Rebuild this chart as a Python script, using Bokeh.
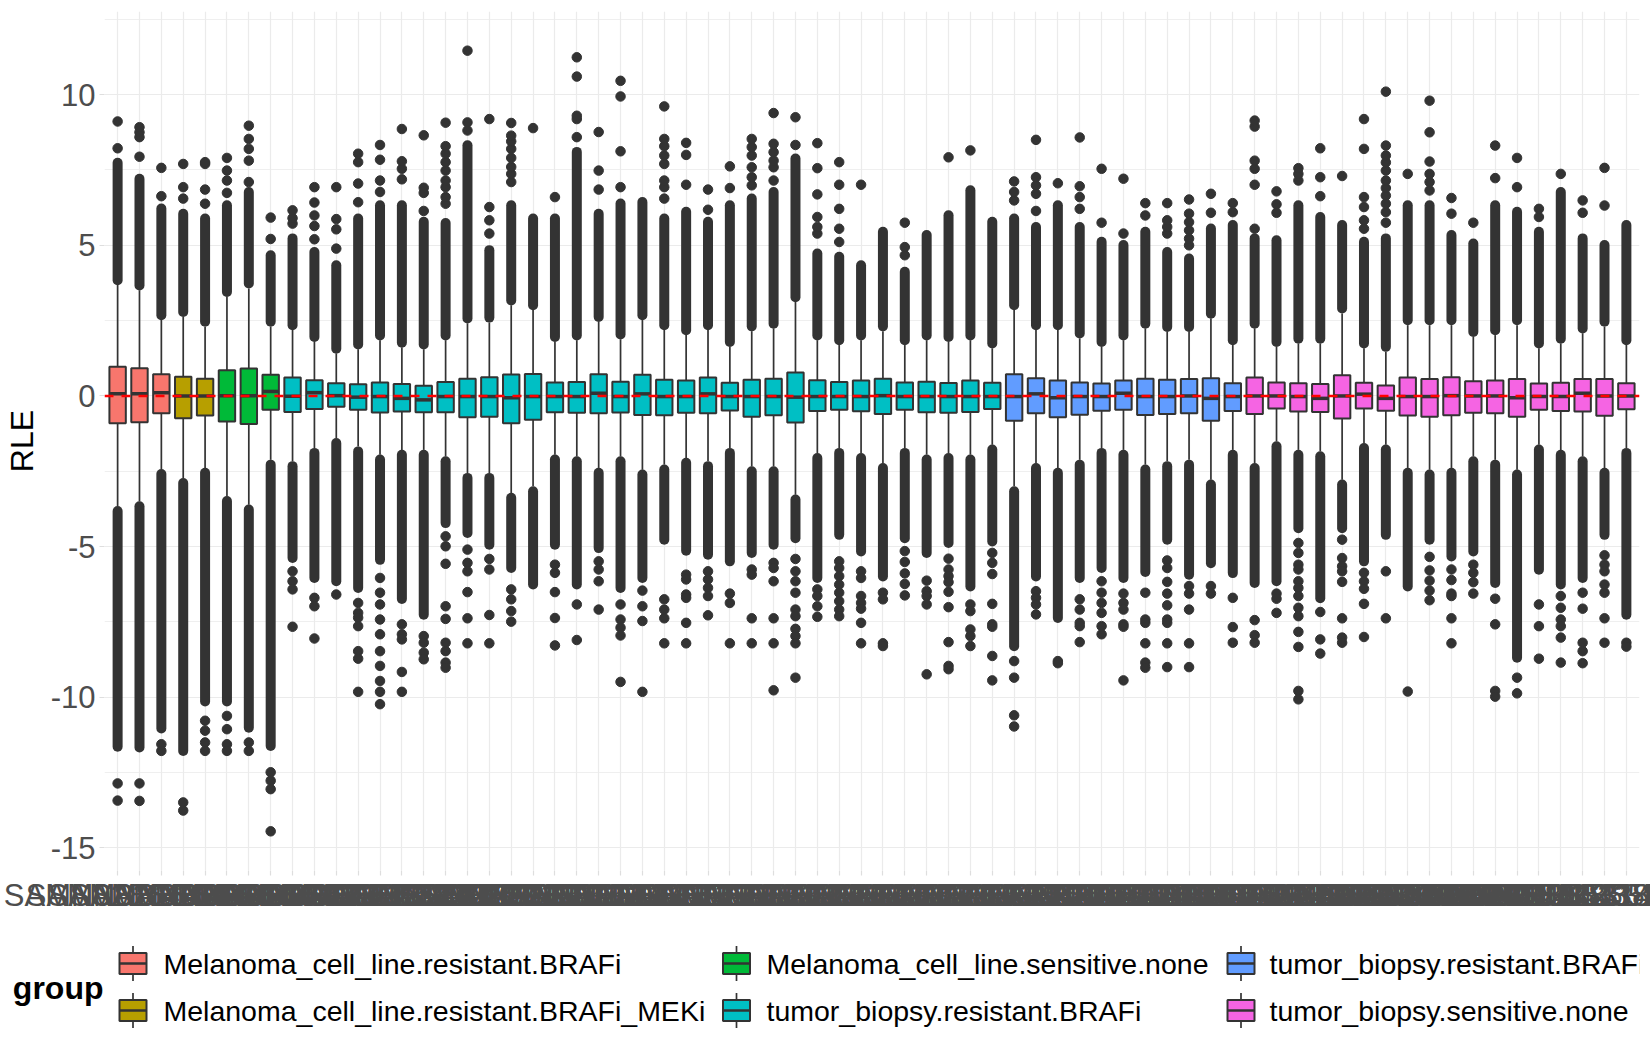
from bokeh.plotting import figure
from bokeh.layouts import column
from bokeh.models import Range1d, FixedTicker, Span
from bokeh.core.properties import value
from bokeh.embed import file_html
from bokeh.resources import INLINE

# ---- data ----
samples = [
    "SAMN02864001", "SAMN02864002", "SAMN02864003", "SAMN02864004", "SAMN02864005",
    "SAMN02864006", "SAMN02864007", "SAMN02864008", "SAMN03733101", "SAMN03733102",
    "SAMN03733103", "SAMN03733104", "SAMN03733105", "SAMN03733106", "SAMN03733107",
    "SAMN03733108", "SAMN03733109", "SAMN03733110", "SAMN03733111", "SAMN03733112",
    "SAMN03733113", "SAMN03733114", "SAMN03733115", "SAMN03733116", "SAMN03733117",
    "SAMN03733118", "SAMN03733119", "SAMN03733120", "SAMN03733121", "SAMN03733122",
    "SAMN03733123", "SAMN03733124", "SAMN03733125", "SAMN03733126", "SAMN03733127",
    "SAMN03733128", "SAMN03733129", "SAMN03733130", "SAMN03733131", "SAMN03733132",
    "SAMN03733133", "SAMN04151201", "SAMN04151202", "SAMN04151203", "SAMN04151204",
    "SAMN04151205", "SAMN04151206", "SAMN04151207", "SAMN04151208", "SAMN04151209",
    "SAMN04151210", "SAMN04151211", "SAMN04385301", "SAMN04385302", "SAMN04385303",
    "SAMN04385304", "SAMN04385305", "SAMN04385306", "SAMN04385307", "SAMN04385308",
    "SAMN04385309", "SAMN04385310", "SAMN04385311", "SAMN04385312", "SAMN04385313",
    "SAMN04385314", "SAMN04385315", "SAMN04385316", "SAMN04385317", "SAMN04385318",
]

group_names = [
    "Melanoma_cell_line.resistant.BRAFi",
    "Melanoma_cell_line.resistant.BRAFi_MEKi",
    "Melanoma_cell_line.sensitive.none",
    "tumor_biopsy.resistant.BRAFi",
    "tumor_biopsy.resistant.BRAFi_MEKi",
    "tumor_biopsy.sensitive.none",
]
group_colors = ["#F8766D", "#B79F00", "#00BA38", "#00BFC4", "#619CFF", "#F564E3"]
sample_group = [0] * 3 + [1] * 2 + [2] * 3 + [3] * 33 + [4] * 11 + [5] * 18

q3 = [0.97, 0.92, 0.72, 0.64, 0.57, 0.85, 0.91, 0.70, 0.61, 0.52,
      0.42, 0.39, 0.45, 0.40, 0.34, 0.46, 0.57, 0.62, 0.71, 0.73,
      0.45, 0.46, 0.72, 0.47, 0.70, 0.54, 0.51, 0.61, 0.44, 0.54,
      0.57, 0.78, 0.52, 0.46, 0.51, 0.57, 0.45, 0.47, 0.43, 0.51,
      0.44, 0.72, 0.59, 0.51, 0.45, 0.41, 0.51, 0.57, 0.54, 0.56,
      0.59, 0.42, 0.61, 0.45, 0.42, 0.40, 0.69, 0.44, 0.35, 0.61,
      0.56, 0.62, 0.49, 0.51, 0.56, 0.41, 0.44, 0.56, 0.56, 0.42]
med = [0.07, 0.07, 0.11, 0.00, 0.00, 0.01, 0.01, 0.15, -0.01, 0.11,
       0.01, -0.04, -0.02, -0.08, -0.13, -0.02, -0.02, -0.02, -0.06, -0.02,
       -0.02, -0.02, 0.09, -0.02, 0.07, -0.02, -0.02, 0.07, -0.02, -0.02,
       -0.02, -0.04, -0.02, -0.02, -0.02, 0.01, -0.02, -0.02, -0.02, -0.02,
       -0.02, -0.02, 0.07, -0.06, -0.02, -0.02, 0.09, -0.02, -0.02, 0.00,
       -0.08, -0.02, 0.00, 0.00, -0.02, -0.08, 0.00, 0.06, -0.08, -0.02,
       -0.02, 0.01, 0.00, 0.00, -0.06, -0.02, -0.02, 0.09, 0.00, 0.00]
q1 = [-0.91, -0.87, -0.57, -0.74, -0.65, -0.85, -0.93, -0.46, -0.53, -0.43,
      -0.36, -0.46, -0.55, -0.52, -0.54, -0.54, -0.71, -0.69, -0.91, -0.79,
      -0.54, -0.56, -0.57, -0.55, -0.63, -0.64, -0.56, -0.57, -0.48, -0.69,
      -0.64, -0.88, -0.50, -0.46, -0.51, -0.60, -0.46, -0.54, -0.56, -0.53,
      -0.43, -0.82, -0.57, -0.71, -0.62, -0.49, -0.46, -0.63, -0.60, -0.57,
      -0.82, -0.50, -0.60, -0.42, -0.52, -0.53, -0.75, -0.42, -0.49, -0.65,
      -0.69, -0.64, -0.56, -0.57, -0.69, -0.46, -0.50, -0.52, -0.66, -0.44]

# upper / lower whisker ends
hi_w = [3.68, 3.51, 2.52, 2.63, 2.30, 3.29, 3.57, 2.30, 2.19, 1.80,
        1.41, 1.55, 1.85, 1.61, 1.55, 1.85, 2.41, 2.44, 3.01, 2.85,
        1.80, 1.85, 2.46, 1.88, 2.52, 2.19, 2.02, 2.19, 1.63, 2.15,
        2.24, 3.12, 1.85, 1.69, 1.85, 2.15, 1.69, 1.85, 1.80, 1.85,
        1.58, 2.85, 2.19, 2.19, 1.91, 1.63, 1.85, 2.24, 2.13, 2.13,
        2.57, 1.69, 2.24, 1.63, 1.74, 1.74, 2.74, 1.58, 1.47, 2.35,
        2.35, 2.35, 1.96, 2.02, 2.35, 1.58, 1.74, 2.08, 2.30, 1.69]
lo_w = [-3.66, -3.50, -2.43, -2.73, -2.39, -3.33, -3.61, -2.12, -2.17, -1.73,
        -1.40, -1.68, -1.95, -1.79, -1.79, -2.01, -2.56, -2.56, -3.22, -3.00,
        -1.95, -2.01, -2.39, -2.01, -2.45, -2.28, -2.06, -2.17, -1.73, -2.34,
        -2.34, -3.28, -1.90, -1.73, -1.90, -2.23, -1.73, -1.95, -1.90, -1.95,
        -1.62, -3.00, -2.23, -2.39, -2.12, -1.73, -1.79, -2.28, -2.17, -2.12,
        -2.78, -1.79, -2.23, -1.51, -1.79, -1.84, -2.78, -1.57, -1.62, -2.39,
        -2.45, -2.39, -2.01, -2.12, -2.45, -1.62, -1.79, -2.01, -2.39, -1.73]

# outer ends of the solid runs of overlapping outliers
hi_d = [7.90, 7.37, 6.38, 6.21, 6.05, 6.49, 6.93, 4.83, 5.39, 4.94,
        4.50, 6.05, 6.49, 6.49, 5.94, 5.90, 8.48, 5.00, 6.49, 6.05,
        6.05, 8.26, 6.21, 6.55, 6.60, 6.05, 6.27, 5.94, 6.49, 6.71,
        6.93, 8.04, 4.89, 4.78, 4.50, 5.61, 4.28, 5.50, 6.16, 6.99,
        5.94, 6.05, 5.77, 6.49, 5.77, 5.28, 5.17, 5.61, 4.94, 4.72,
        5.72, 5.83, 5.39, 5.33, 6.49, 6.10, 5.83, 5.28, 5.39, 6.49,
        6.49, 5.50, 5.22, 6.49, 6.27, 5.61, 6.93, 5.39, 5.17, 5.83]
lo_d = [-11.80, -11.83, -11.20, -11.94, -10.30, -10.30, -11.17, -11.78, -5.54, -6.20,
        -6.31, -6.53, -5.60, -6.90, -7.42, -4.38, -4.71, -5.10, -5.87, -6.42,
        -5.10, -6.42, -5.21, -6.53, -6.20, -4.93, -5.30, -5.43, -5.65, -5.37,
        -5.10, -4.88, -6.20, -4.77, -5.32, -6.15, -4.88, -5.37, -5.04, -6.48,
        -4.99, -8.47, -6.15, -7.53, -6.20, -5.87, -6.20, -6.00, -4.93, -6.09,
        -5.71, -6.04, -6.37, -6.31, -4.55, -6.87, -4.55, -5.65, -4.77, -6.48,
        -4.93, -5.49, -5.32, -6.37, -8.85, -5.93, -6.42, -6.20, -4.77, -7.42]

# separate outliers beyond the solid runs
hi_out = [
    [8.22, 9.11], [7.94, 8.59, 8.75, 8.92], [6.63, 7.57], [6.55, 6.93, 7.70],
    [6.38, 6.85, 7.70, 7.76], [6.74, 7.15, 7.48, 7.90], [7.10, 7.81, 8.20, 8.53, 8.97],
    [5.21, 5.92], [5.72, 5.90, 6.16], [5.20, 5.64, 5.99, 6.42, 6.93],
    [4.89, 5.53, 5.87, 6.93], [6.43, 7.05, 7.76, 8.04], [6.77, 7.15, 7.84, 8.33],
    [7.19, 7.54, 7.79, 8.86], [6.14, 6.74, 6.91, 8.65],
    [6.38, 6.60, 6.93, 7.15, 7.48, 7.76, 8.04, 8.29, 9.07], [8.81, 9.08, 11.46],
    [5.39, 5.83, 6.27, 9.19], [7.10, 7.37, 7.60, 7.90, 8.20, 8.45, 8.64, 9.06],
    [8.89], [6.60], [8.59, 9.19, 9.30, 10.60, 11.24], [6.85, 7.48, 8.76],
    [6.93, 8.12, 9.94, 10.46], [],
    [6.55, 6.93, 7.15, 7.70, 7.98, 8.29, 8.53, 9.61], [7.01, 8.00, 8.40],
    [6.18, 6.85], [6.90, 7.62], [6.99, 7.26, 7.59, 7.98, 8.26, 8.53],
    [7.15, 7.59, 7.81, 8.09, 8.37, 9.39], [8.33, 9.25],
    [5.39, 5.61, 5.94, 6.69, 7.56, 8.39], [5.11, 5.55, 6.21, 7.01, 7.76], [7.01],
    [], [4.67, 4.94, 5.75], [], [7.92], [8.15], [],
    [6.49, 6.77, 7.12], [6.14, 6.71, 6.99, 7.26, 8.50], [7.06],
    [6.21, 6.60, 6.96, 8.58], [5.75, 7.54], [5.39, 7.21], [5.99, 6.40],
    [5.39, 5.61, 5.83, 6.40], [5.00, 5.22, 5.50, 5.77, 6.05, 6.52], [6.08, 6.71],
    [6.10, 6.40], [5.55, 7.01, 7.54, 7.81, 8.94, 9.14], [6.08, 6.36, 6.79],
    [7.15, 7.37, 7.56], [6.63, 7.26, 8.22], [7.30],
    [5.55, 5.83, 6.27, 6.60, 8.20, 9.19],
    [5.75, 6.10, 6.38, 6.65, 6.90, 7.15, 7.48, 7.75, 7.98, 8.31, 10.10],
    [7.37], [6.82, 7.10, 7.37, 7.78, 8.75, 9.80], [6.05, 6.57], [5.75],
    [7.23, 8.31], [6.93, 7.90], [5.94, 6.21], [7.37], [6.08, 6.49], [6.32, 7.57], [],
]
lo_out = [
    [-12.86, -13.43], [-12.86, -13.44], [-11.56, -11.78], [-13.49, -13.76],
    [-10.78, -11.11, -11.50, -11.78], [-10.62, -11.06, -11.56, -11.78], [-11.50, -11.78],
    [-12.49, -12.77, -13.05, -14.45], [-5.82, -6.15, -6.42, -7.66], [-6.70, -6.98, -8.05],
    [-6.59], [-6.87, -7.20, -7.36, -7.64, -8.47, -8.72, -9.82],
    [-6.04, -6.53, -6.92, -7.42, -7.91, -8.47, -8.96, -9.46, -9.82, -10.23],
    [-7.58, -7.91, -8.08, -9.16, -9.82], [-7.97, -8.19, -8.52, -8.74],
    [-4.66, -4.99, -5.57, -6.98, -7.40, -8.19, -8.47, -8.85, -9.02],
    [-5.10, -5.54, -5.82, -6.51, -7.38, -8.21], [-5.41, -5.76, -7.27, -8.21],
    [-6.42, -6.75, -7.14, -7.49], [], [-5.60, -5.87, -6.51, -7.37, -8.28],
    [-6.92, -8.10], [-5.49, -5.76, -6.15, -7.09], [-6.92, -7.42, -7.69, -7.95, -9.49],
    [-6.46, -6.98, -7.47, -9.82], [-6.75, -7.09, -7.38, -8.21],
    [-5.93, -6.09, -6.59, -6.70, -7.53, -8.21], [-5.82, -6.09, -6.37, -6.64, -7.28],
    [-6.56, -6.87, -8.21], [-5.76, -5.93, -7.38, -8.21],
    [-5.54, -5.71, -6.15, -7.38, -8.21, -9.77],
    [-5.41, -5.82, -6.15, -6.53, -7.09, -7.31, -7.73, -7.97, -8.21, -9.35],
    [-6.42, -6.64, -6.98, -7.33], [-5.49, -5.71, -5.98, -6.26, -6.53, -6.81, -7.09, -7.31],
    [-5.82, -6.04, -6.64, -6.87, -7.06, -7.53, -8.21], [-6.53, -6.75, -8.21, -8.30],
    [-5.15, -5.51, -5.89, -6.24, -6.62], [-6.13, -6.48, -6.64, -6.92, -9.24],
    [-5.40, -5.76, -5.98, -6.18, -6.50, -7.01, -8.17, -8.96, -9.07],
    [-6.92, -7.14, -7.75, -7.97, -8.30],
    [-5.21, -5.54, -5.91, -6.90, -7.58, -7.66, -8.63, -9.44],
    [-8.80, -9.35, -10.60, -10.97], [-6.48, -6.70, -6.92, -7.25], [-8.80, -8.87],
    [-6.75, -7.09, -7.53, -7.64, -8.17], [-6.15, -6.53, -6.87, -7.20, -7.64, -7.91],
    [-6.56, -6.87, -7.09, -7.58, -7.66, -9.44], [-6.53, -7.42, -7.53, -8.21, -8.85, -9.02],
    [-5.46, -5.71, -6.17, -6.56, -6.95, -7.42, -7.53, -8.21, -9.00],
    [-6.31, -6.56, -7.09, -8.21, -9.00], [-6.31, -6.56], [-6.70, -7.67, -8.19],
    [-7.44, -7.94, -8.19], [-6.56, -6.73, -7.20],
    [-4.88, -5.21, -5.60, -5.76, -6.15, -6.37, -6.64, -7.03, -7.31, -7.83, -8.33, -9.79, -10.07],
    [-7.17, -8.08, -8.55], [-4.77, -5.38, -5.65, -5.82, -6.17, -7.38, -8.02, -8.19],
    [-5.87, -6.15, -6.40, -6.90, -8.00], [-5.82, -7.38], [-9.81],
    [-5.34, -5.79, -6.13, -6.46, -6.78], [-5.76, -6.11, -6.56, -6.64, -7.38, -8.21],
    [-5.60, -5.87, -6.18, -6.56], [-6.73, -7.58, -9.79, -9.98], [-9.35, -9.87],
    [-6.92, -7.64, -8.72], [-6.64, -7.03, -7.42, -7.64, -8.02, -8.85],
    [-6.53, -7.06, -8.19, -8.47, -8.87], [-5.29, -5.60, -5.82, -6.26, -6.53, -7.38, -8.19],
    [-8.19, -8.32],
]

y_ticks = [-15, -10, -5, 0, 5, 10]
y_minor = [-12.5, -7.5, -2.5, 2.5, 7.5, 12.5]

DARK = "#333333"
GRID = "#EBEBEB"
FONT = "Liberation Sans"

pos = list(range(1, len(samples) + 1))
fills = [group_colors[g] for g in sample_group]
r = 0.16   # outlier dot radius in data units
half = 0.375

p = figure(width=1650, height=930,
           x_range=Range1d(0.4, len(samples) + 0.6), y_range=Range1d(-15.75, 12.76),
           output_backend="svg", toolbar_location=None,
           min_border_left=104, min_border_right=11, min_border_top=11, min_border_bottom=60)
p.outline_line_color = None
p.background_fill_color = "white"
p.border_fill_color = "white"

# solid runs of outliers
sx, sy0, sy1 = [], [], []
for i, x in enumerate(pos):
    if hi_d[i] - r > hi_w[i] + r:
        sx.append(x); sy0.append(hi_w[i] + r); sy1.append(hi_d[i] - r)
    if lo_d[i] + r < lo_w[i] - r:
        sx.append(x); sy0.append(lo_w[i] - r); sy1.append(lo_d[i] + r)
p.segment(x0=sx, y0=sy0, x1=sx, y1=sy1, line_color=DARK, line_width=10, line_cap="round")

# single outliers
ox, oy = [], []
for i, x in enumerate(pos):
    for v in hi_out[i] + lo_out[i]:
        ox.append(x); oy.append(v)
p.scatter(ox, oy, size=9.5, fill_color=DARK, line_color=DARK)

# whiskers
p.segment(x0=pos, y0=q3, x1=pos, y1=hi_w, line_color=DARK, line_width=1.7)
p.segment(x0=pos, y0=q1, x1=pos, y1=lo_w, line_color=DARK, line_width=1.7)

# boxes + medians
p.vbar(x=pos, width=2 * half, top=q3, bottom=q1, fill_color=fills,
       line_color=DARK, line_width=2)
p.segment(x0=[x - half for x in pos], y0=med, x1=[x + half for x in pos], y1=med,
          line_color=DARK, line_width=3.5)

p.add_layout(Span(location=0, dimension="width", line_color="red",
                  line_width=2.4, line_dash="9 8"))

xt = FixedTicker(ticks=pos)
p.xaxis.ticker = xt
p.xgrid.ticker = xt
p.xaxis.major_label_overrides = {x: s for x, s in zip(pos, samples)}
yt = FixedTicker(ticks=y_ticks, minor_ticks=y_minor)
p.yaxis.ticker = yt
p.ygrid.ticker = yt
p.yaxis.major_label_overrides = {t: str(t) for t in y_ticks}

p.grid.grid_line_color = GRID
p.grid.grid_line_width = 1.2
p.ygrid.minor_grid_line_color = GRID
p.ygrid.minor_grid_line_width = 0.8

for ax in (p.xaxis, p.yaxis):
    ax.axis_line_color = None
    ax.major_tick_line_color = "#DEDEDE"
    ax.major_tick_line_width = 1.2
    ax.major_tick_out = 5
    ax.major_tick_in = 0
    ax.minor_tick_line_color = None
    ax.major_label_text_font = FONT
    ax.major_label_text_font_size = "31px"
    ax.major_label_text_color = "#4D4D4D"
p.xaxis.major_label_standoff = 2
p.yaxis.major_label_standoff = 4
p.yaxis.axis_label = "RLE"
p.yaxis.axis_label_text_font = FONT
p.yaxis.axis_label_text_font_size = "32px"
p.yaxis.axis_label_text_font_style = "normal"
p.yaxis.axis_label_text_color = "black"
p.yaxis.axis_label_standoff = 8

# ---- legend panel: x in page pixels inside the frame, y in page pixels ----
leg = figure(width=1650, height=120, x_range=Range1d(104, 1639), y_range=Range1d(1044, 930),
             output_backend="svg", toolbar_location=None, x_axis_location=None,
             min_border_left=104, min_border_right=11, min_border_top=0, min_border_bottom=6)
leg.outline_line_color = None
leg.grid.grid_line_color = None
leg.yaxis.ticker = FixedTicker(ticks=[])
leg.yaxis.axis_line_color = None
leg.yaxis.major_tick_out = 0
leg.yaxis.minor_tick_line_color = None
leg.yaxis.major_label_standoff = 0
leg.yaxis.axis_label = "group"
leg.yaxis.axis_label_orientation = "horizontal"
leg.yaxis.axis_label_standoff = 1
leg.yaxis.axis_label_text_font = FONT
leg.yaxis.axis_label_text_font_size = "32px"
leg.yaxis.axis_label_text_font_style = "bold"
leg.yaxis.axis_label_text_color = "black"

key_x = [132.5, 132.5, 736, 736, 1240.5, 1240.5]
row_y = [963, 1010, 963, 1010, 963, 1010]
text_x = [163, 163, 766, 766, 1269, 1269]

leg.segment(x0=key_x, y0=[y - 17.5 for y in row_y], x1=key_x, y1=[y + 17.5 for y in row_y],
            line_color=DARK, line_width=1.7)
leg.rect(x=key_x, y=row_y, width=27, height=21, fill_color=group_colors,
         line_color=DARK, line_width=2)
leg.segment(x0=[x - 13.5 for x in key_x], y0=row_y, x1=[x + 13.5 for x in key_x], y1=row_y,
            line_color=DARK, line_width=2.5)
leg.text(x=text_x, y=row_y, text=group_names, text_font=value(FONT),
         text_font_size="28.5px", text_baseline="middle", text_align="left",
         text_color="black")

layout = column(p, leg)
open("out.html", "w").write(file_html(layout, INLINE))
